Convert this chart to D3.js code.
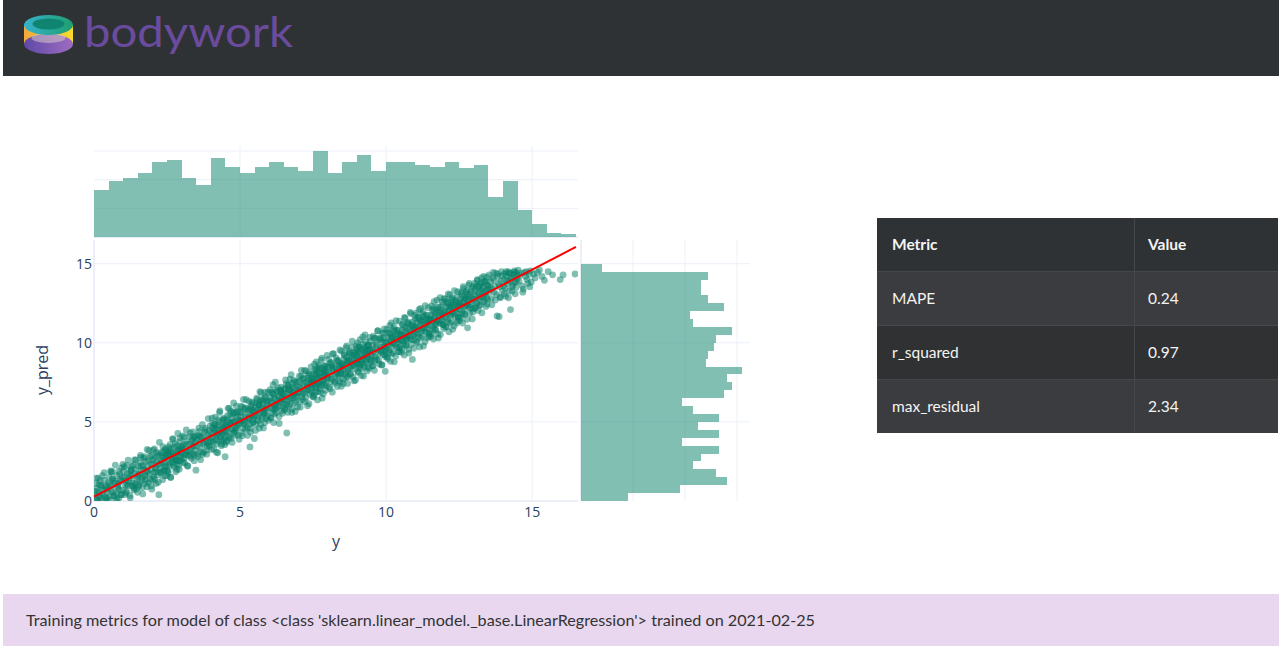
<!DOCTYPE html>
<html>
<head>
<meta charset="utf-8">
<title>bodywork - training metrics</title>
<script src="https://cdn.jsdelivr.net/npm/d3@7"></script>
<style>
  body { margin: 0; background: #fff; }
  svg { display: block; }
  .tick { font-family: "Open Sans", sans-serif; font-size: 14px; fill: #2a3f5f; }
  .title { font-family: "Open Sans", sans-serif; font-size: 16px; fill: #2a3f5f; }
  .cell { font-family: Lato, "Noto Sans", sans-serif; font-size: 15.5px; fill: #f4f4f4; }
</style>
</head>
<body>
<svg id="page" width="1282" height="650"></svg>
<script>
// ---- values ----
var axisTicks = [0, 5, 10, 15];
var countTicks = [20, 40, 60];
var binWidth = 0.5;

// histogram of y (bins of 0.5 from 0 to 16.5)
var yCounts = [33, 39, 41, 45, 52, 54, 41, 36, 55, 49, 45, 49, 52, 49, 46, 60, 45,
               52, 57, 46, 52, 52, 50, 49, 52, 48, 50, 28, 39, 19, 9, 3, 2];

// histogram of y_pred (bins of 0.5 from 0 to 15)
var predCounts = [18, 38, 56, 52, 43, 46, 53, 39, 53, 45, 53, 43, 39, 55, 58,
                  56, 62, 48, 49, 51, 52, 58, 43, 42, 55, 49, 46, 46, 49, 8];

// fitted line
var fitX = [0, 16.5];
var fitY = [0.27, 16.06];

var metricNames = ['MAPE', 'r_squared', 'max_residual'];
var metricValues = ['0.24', '0.97', '2.34'];

// [y, y_pred] - first pass
var points = [
  [0.02,0.35],[0.05,1.1],[0.08,0.05],[0.12,0.6],[0.15,1.45],[0.2,0.2],[0.26,0.9],[0.31,0.45],[0.36,1.3],[0.42,0.1],[0.47,0.75],
  [0.52,1.5],[0.55,0.3],[0.58,0.95],[0.62,1.85],[0.66,0.55],[0.7,1.25],[0.74,0.05],[0.78,1.6],[0.82,0.85],[0.86,0.2],[0.9,1.35],[0.94,2.1],[0.98,0.7],
  [1.02,1.9],[1.05,0.4],[1.09,1.3],[1.12,2.25],[1.16,0.95],[1.2,1.6],[1.24,0.2],[1.28,2.0],[1.32,1.15],[1.36,0.7],[1.4,1.75],[1.43,2.6],[1.46,1.35],[1.49,0.55],
  [1.51,2.2],[1.54,1.0],[1.57,1.7],[1.6,2.75],[1.64,1.3],[1.67,0.45],[1.7,2.0],[1.74,1.55],[1.78,2.5],[1.81,0.9],[1.85,1.85],[1.88,3.2],[1.92,1.4],[1.95,2.35],[1.98,0.75],
  [2.01,2.6],[2.04,1.5],[2.07,3.3],[2.1,2.05],[2.13,1.1],[2.16,2.85],[2.19,2.3],[2.22,0.4],[2.26,1.8],[2.29,3.05],[2.32,2.45],[2.35,1.35],[2.38,2.75],[2.41,1.95],[2.44,3.3],[2.47,2.2],[2.49,1.6],
  [2.51,2.95],[2.53,1.9],[2.56,3.4],[2.59,2.4],[2.62,1.5],[2.65,3.1],[2.68,2.7],[2.71,3.9],[2.74,2.15],[2.77,2.9],[2.8,1.85],[2.83,3.5],[2.86,2.55],[2.89,3.25],[2.92,2.0],[2.94,3.75],[2.97,2.8],[2.99,3.3],
  [3.02,3.4],[3.05,2.45],[3.09,4.05],[3.13,2.95],[3.17,3.6],[3.21,2.2],[3.25,3.15],[3.29,4.3],[3.33,2.7],[3.37,3.45],[3.41,4.0],[3.44,2.9],[3.47,3.7],[3.49,1.95],
  [3.52,3.9],[3.56,2.8],[3.6,4.4],[3.64,3.35],[3.68,4.0],[3.72,2.95],[3.77,3.7],[3.81,4.6],[3.85,3.2],[3.9,4.2],[3.94,3.55],[3.98,4.75],
  [4.01,4.3],[4.03,3.25],[4.06,4.9],[4.09,3.85],[4.12,4.5],[4.15,5.3],[4.18,3.6],[4.21,4.2],[4.24,3.05],[4.27,4.75],[4.3,5.6],[4.33,4.05],[4.36,3.5],[4.39,4.55],[4.42,5.1],[4.45,3.9],[4.47,4.4],[4.49,2.8],
  [4.51,4.8],[4.54,3.8],[4.57,5.4],[4.6,4.35],[4.63,5.85],[4.66,4.95],[4.69,3.95],[4.72,5.25],[4.75,4.5],[4.78,6.2],[4.81,5.0],[4.84,4.15],[4.87,5.6],[4.9,4.75],[4.93,5.3],[4.97,3.9],
  [5.02,5.3],[5.05,4.3],[5.09,5.95],[5.13,4.9],[5.17,5.5],[5.21,6.4],[5.25,4.6],[5.28,5.2],[5.32,5.8],[5.34,3.42],[5.36,4.35],[5.39,5.45],[5.42,6.25],[5.45,5.0],[5.47,5.65],[5.49,3.95],
  [5.51,5.9],[5.54,4.85],[5.57,6.5],[5.6,5.4],[5.63,6.1],[5.66,4.6],[5.69,5.75],[5.72,6.85],[5.75,5.2],[5.78,6.3],[5.81,5.55],[5.84,4.95],[5.87,6.6],[5.9,5.85],[5.93,6.25],[5.97,5.1],
  [6.01,6.3],[6.04,5.25],[6.07,6.9],[6.1,5.8],[6.13,7.35],[6.16,6.5],[6.19,5.5],[6.22,6.1],[6.25,7.0],[6.28,5.95],[6.31,6.65],[6.34,4.9],[6.37,6.35],[6.4,7.2],[6.43,5.7],[6.46,6.8],[6.49,6.15],
  [6.52,6.75],[6.55,5.85],[6.58,7.4],[6.6,4.3],[6.62,6.3],[6.65,7.05],[6.68,6.0],[6.71,7.7],[6.74,6.55],[6.77,5.6],[6.8,7.2],[6.83,6.85],[6.86,6.2],[6.9,7.55],[6.94,6.65],[6.97,5.95],
  [7.02,7.2],[7.05,6.3],[7.09,7.9],[7.13,6.8],[7.17,7.45],[7.21,8.25],[7.25,6.55],[7.28,7.05],[7.32,7.75],[7.36,6.15],[7.39,7.4],[7.42,8.0],[7.45,6.9],[7.47,7.6],[7.49,6.6],
  [7.51,7.7],[7.53,6.7],[7.56,8.3],[7.58,7.25],[7.61,8.8],[7.63,7.95],[7.66,6.9],[7.68,7.5],[7.71,8.45],[7.73,7.1],[7.76,7.85],[7.78,8.9],[7.81,6.5],[7.83,7.6],[7.86,8.2],[7.88,7.35],[7.91,8.55],[7.93,7.0],[7.96,7.9],[7.98,9.2],
  [8.02,8.15],[8.05,7.2],[8.09,8.75],[8.13,7.7],[8.17,9.3],[8.21,8.4],[8.25,7.45],[8.28,8.0],[8.32,8.9],[8.36,7.6],[8.39,8.55],[8.42,9.55],[8.45,8.1],[8.47,7.25],[8.49,8.7],
  [8.51,8.6],[8.54,7.7],[8.57,9.2],[8.6,8.15],[8.63,9.7],[8.66,8.85],[8.69,7.85],[8.72,8.4],[8.75,9.45],[8.78,8.0],[8.81,9.0],[8.84,10.1],[8.87,8.55],[8.9,7.6],[8.93,9.25],[8.96,8.75],[8.99,9.6],
  [9.01,9.1],[9.03,8.2],[9.06,9.75],[9.08,8.6],[9.11,10.2],[9.13,9.3],[9.16,8.35],[9.18,8.95],[9.21,9.9],[9.23,7.9],[9.26,9.45],[9.28,10.5],[9.31,8.75],[9.33,9.2],[9.36,9.8],[9.39,8.45],[9.42,9.55],[9.45,10.1],[9.48,8.9],
  [9.52,9.6],[9.55,8.55],[9.59,10.3],[9.63,9.1],[9.67,9.85],[9.71,10.75],[9.75,8.9],[9.78,9.5],[9.82,10.2],[9.86,8.6],[9.89,9.75],[9.92,10.6],[9.95,9.25],[9.97,8.2],[9.99,10.0],
  [10.01,10.05],[10.04,9.1],[10.07,10.65],[10.1,9.55],[10.13,11.1],[10.16,10.3],[10.19,9.3],[10.22,9.95],[10.25,10.85],[10.28,8.8],[10.31,10.45],[10.34,11.4],[10.37,9.7],[10.4,10.2],[10.43,10.8],[10.46,9.45],[10.49,10.55],
  [10.51,10.5],[10.54,9.6],[10.57,11.15],[10.6,10.1],[10.63,11.6],[10.66,10.75],[10.69,9.8],[10.72,10.35],[10.75,11.3],[10.78,9.35],[10.81,10.9],[10.84,11.85],[10.87,10.2],[10.9,8.95],[10.93,11.05],[10.96,10.55],[10.99,11.5],
  [11.01,11.0],[11.04,10.1],[11.07,11.6],[11.1,10.55],[11.13,12.1],[11.16,11.25],[11.19,10.3],[11.22,10.85],[11.25,11.8],[11.28,9.8],[11.31,11.4],[11.34,12.35],[11.37,10.7],[11.4,11.15],[11.43,11.75],[11.46,10.4],[11.49,11.5],
  [11.52,11.5],[11.55,10.55],[11.58,12.1],[11.61,11.0],[11.64,12.6],[11.67,11.75],[11.7,10.8],[11.73,11.35],[11.76,12.25],[11.79,10.3],[11.82,11.9],[11.85,12.85],[11.88,11.2],[11.91,11.6],[11.94,12.4],[11.97,10.9],
  [12.01,12.0],[12.04,11.0],[12.07,12.6],[12.1,11.5],[12.13,13.1],[12.16,12.25],[12.19,11.25],[12.22,11.8],[12.25,12.75],[12.28,10.85],[12.31,12.4],[12.34,13.3],[12.37,11.65],[12.4,12.1],[12.43,12.9],[12.46,11.4],[12.49,12.55],
  [12.52,12.5],[12.55,11.6],[12.58,13.1],[12.61,12.0],[12.64,13.55],[12.67,12.75],[12.7,11.8],[12.73,12.35],[12.76,13.3],[12.79,10.95],[12.82,12.9],[12.85,13.75],[12.88,12.2],[12.91,12.6],[12.94,13.4],[12.97,11.95],
  [13.01,13.0],[13.04,12.2],[13.07,13.6],[13.1,12.55],[13.13,14.0],[13.16,13.25],[13.19,12.35],[13.22,12.9],[13.25,13.8],[13.28,11.9],[13.31,13.45],[13.34,14.2],[13.37,12.7],[13.4,13.1],[13.43,13.9],[13.46,12.45],[13.49,13.6],
  [13.55,13.5],[13.6,12.8],[13.65,14.1],[13.7,13.2],[13.75,14.4],[13.8,11.7],[13.85,13.75],[13.87,11.65],[13.9,12.9],[13.96,14.25],
  [14.02,13.6],[14.06,14.35],[14.1,12.95],[14.14,13.95],[14.18,14.5],[14.22,13.3],[14.26,12.1],[14.3,14.1],[14.34,13.65],[14.38,14.45],[14.42,13.1],[14.46,13.85],[14.49,14.3],
  [14.55,13.9],[14.62,14.4],[14.7,13.4],[14.78,14.2],[14.86,13.75],[14.94,14.55],
  [15.1,14.1],[15.25,14.6],[15.42,13.95],
  [15.7,14.3],[15.96,14.0],
  [16.06,14.3],[16.47,14.35]
];

// [y, y_pred] - second pass, the dense core of the band
var points2 = [
  [0.03,0.6],[0.11,0.8],[0.09,0.15],[0.18,0.5],[0.24,1.0],[0.22,0.35],[0.33,0.7],[0.29,1.6],[0.4,0.95],[0.45,0.55],[0.38,0.25],[0.49,1.15],
  [0.53,1.05],[0.6,0.7],[0.57,1.9],[0.68,0.35],[0.72,1.15],[0.64,1.4],[0.8,0.95],[0.77,0.5],[0.88,1.7],[0.84,1.1],[0.93,0.4],[0.97,1.5],[0.91,1.25],
  [1.03,1.5],[1.08,1.0],[1.14,1.75],[1.11,0.6],[1.19,1.25],[1.25,1.9],[1.22,1.45],[1.31,0.95],[1.35,2.3],[1.29,1.6],[1.41,1.1],[1.44,2.0],[1.38,0.8],[1.48,1.55],
  [1.52,1.65],[1.58,2.4],[1.56,1.2],[1.63,1.95],[1.69,2.25],[1.66,1.5],[1.73,2.8],[1.79,1.9],[1.76,1.1],[1.83,2.15],[1.87,2.55],[1.9,1.7],[1.94,2.0],[1.97,2.9],[1.99,1.35],
  [2.02,2.3],[2.06,1.8],[2.09,2.7],[2.12,2.1],[2.15,2.5],[2.18,1.65],[2.21,2.95],[2.25,2.35],[2.28,2.05],[2.31,2.6],[2.34,1.9],[2.37,3.1],[2.4,2.4],[2.43,2.15],[2.46,2.75],[2.48,2.9],[2.495,1.95],
  [2.52,2.6],[2.55,3.15],[2.58,2.25],[2.61,2.85],[2.64,3.3],[2.67,2.45],[2.7,3.0],[2.73,2.6],[2.76,3.4],[2.79,2.7],[2.82,3.05],[2.85,2.35],[2.88,3.2],[2.91,2.9],[2.93,2.55],[2.96,3.1],[2.98,3.45],[2.995,2.6],
  [3.01,3.0],[3.06,3.55],[3.08,2.7],[3.12,3.3],[3.15,3.75],[3.19,3.1],[3.23,2.85],[3.27,3.6],[3.31,3.25],[3.35,3.9],[3.39,3.0],[3.42,3.5],[3.46,3.2],[3.48,4.1],
  [3.53,3.45],[3.58,4.15],[3.62,3.7],[3.66,3.1],[3.7,4.05],[3.74,3.6],[3.79,4.35],[3.83,3.85],[3.87,3.45],[3.92,4.0],[3.96,4.45],[3.99,3.75],
  [4.02,4.0],[4.05,4.6],[4.08,3.7],[4.11,4.3],[4.14,4.85],[4.17,4.1],[4.2,3.9],[4.23,4.55],[4.26,4.25],[4.29,5.0],[4.32,4.4],[4.35,3.85],[4.38,4.8],[4.41,4.3],[4.44,4.65],[4.46,5.2],[4.48,4.0],[4.495,4.75],
  [4.52,4.4],[4.55,5.1],[4.58,4.7],[4.62,4.1],[4.65,5.45],[4.68,4.85],[4.71,4.55],[4.74,5.0],[4.77,5.55],[4.8,4.3],[4.83,4.95],[4.86,5.3],[4.89,4.6],[4.92,5.65],[4.95,4.85],[4.98,5.1],
  [5.01,4.95],[5.04,5.6],[5.07,5.1],[5.11,4.6],[5.15,5.85],[5.19,5.3],[5.23,5.0],[5.27,5.7],[5.3,5.25],[5.33,4.85],[5.37,6.0],[5.4,5.4],[5.44,5.15],[5.46,5.75],[5.48,5.35],
  [5.52,5.45],[5.55,6.2],[5.58,5.75],[5.61,5.15],[5.64,6.05],[5.67,5.55],[5.7,6.35],[5.73,5.9],[5.76,5.35],[5.79,6.15],[5.82,5.8],[5.85,6.5],[5.88,5.6],[5.91,6.0],[5.94,5.4],[5.96,6.35],
  [6.02,5.9],[6.05,6.55],[6.08,6.2],[6.11,5.6],[6.14,6.75],[6.17,6.05],[6.2,6.45],[6.23,5.85],[6.26,6.9],[6.29,6.3],[6.32,6.0],[6.35,6.6],[6.38,6.95],[6.41,6.25],[6.44,6.5],[6.47,5.95],[6.495,7.05],
  [6.51,6.4],[6.54,7.1],[6.57,6.6],[6.61,6.1],[6.64,7.3],[6.67,6.85],[6.7,6.45],[6.73,7.0],[6.76,6.7],[6.79,7.45],[6.82,6.5],[6.85,7.15],[6.88,6.8],[6.91,6.3],[6.95,7.25],[6.98,6.95],
  [7.01,6.85],[7.04,7.55],[7.07,7.1],[7.11,6.6],[7.15,7.7],[7.19,7.3],[7.23,6.95],[7.27,7.5],[7.3,7.2],[7.34,7.95],[7.38,7.0],[7.41,7.35],[7.44,7.75],[7.46,7.15],[7.48,7.5],
  [7.52,7.35],[7.54,8.05],[7.57,7.6],[7.59,7.15],[7.62,8.2],[7.64,7.75],[7.67,7.4],[7.69,8.35],[7.72,7.95],[7.74,7.55],[7.77,8.1],[7.79,7.3],[7.82,8.4],[7.84,7.85],[7.87,7.65],[7.89,8.25],[7.92,7.45],[7.94,8.15],[7.97,8.5],[7.99,7.75],
  [8.01,7.8],[8.04,8.45],[8.07,8.0],[8.11,7.55],[8.15,8.6],[8.19,8.25],[8.23,7.85],[8.27,8.5],[8.3,8.15],[8.34,8.8],[8.38,7.95],[8.41,8.35],[8.44,8.65],[8.46,8.05],[8.48,8.45],
  [8.52,8.3],[8.55,8.95],[8.58,8.55],[8.61,8.0],[8.64,9.1],[8.67,8.7],[8.7,8.25],[8.73,8.85],[8.76,9.35],[8.79,8.45],[8.82,8.75],[8.85,9.2],[8.88,8.6],[8.91,9.05],[8.94,8.35],[8.97,9.4],[8.995,8.9],
  [9.02,8.7],[9.04,9.4],[9.07,8.95],[9.09,8.45],[9.12,9.55],[9.14,9.15],[9.17,8.8],[9.19,9.6],[9.22,9.05],[9.24,8.65],[9.27,9.7],[9.29,9.25],[9.32,8.9],[9.34,9.45],[9.37,9.1],[9.4,9.85],[9.43,8.95],[9.46,9.5],[9.49,9.3],
  [9.51,9.2],[9.54,9.85],[9.57,9.45],[9.61,8.9],[9.65,10.0],[9.69,9.6],[9.73,9.3],[9.77,10.25],[9.8,9.7],[9.84,9.4],[9.87,10.05],[9.9,9.55],[9.93,10.3],[9.96,9.75],[9.985,9.5],
  [10.02,9.65],[10.05,10.3],[10.08,9.9],[10.11,9.4],[10.14,10.55],[10.17,10.1],[10.2,9.75],[10.23,10.4],[10.26,10.0],[10.29,10.75],[10.32,9.85],[10.35,10.25],[10.38,10.6],[10.41,10.05],[10.44,9.7],[10.47,10.45],[10.495,10.15],
  [10.52,10.15],[10.55,10.8],[10.58,10.4],[10.61,9.9],[10.64,11.0],[10.67,10.6],[10.7,10.25],[10.73,10.9],[10.76,10.5],[10.79,11.2],[10.82,10.3],[10.85,10.7],[10.88,11.1],[10.91,10.45],[10.94,10.85],[10.97,10.2],[10.995,10.95],
  [11.02,10.6],[11.05,11.25],[11.08,10.85],[11.11,10.35],[11.14,11.5],[11.17,11.05],[11.2,10.7],[11.23,11.4],[11.26,10.95],[11.29,11.65],[11.32,10.8],[11.35,11.2],[11.38,11.55],[11.41,10.9],[11.44,11.3],[11.47,10.65],[11.495,11.45],
  [11.51,11.1],[11.54,11.75],[11.57,11.35],[11.6,10.85],[11.63,11.95],[11.66,11.55],[11.69,11.2],[11.72,11.85],[11.75,11.45],[11.78,12.1],[11.81,11.3],[11.84,11.7],[11.87,12.05],[11.9,11.4],[11.93,11.8],[11.96,11.15],[11.99,11.95],
  [12.02,11.6],[12.05,12.25],[12.08,11.85],[12.11,11.35],[12.14,12.45],[12.17,12.05],[12.2,11.7],[12.23,12.35],[12.26,11.95],[12.29,12.6],[12.32,11.8],[12.35,12.2],[12.38,12.55],[12.41,11.9],[12.44,12.3],[12.47,11.65],[12.495,12.4],
  [12.51,12.1],[12.54,12.75],[12.57,12.35],[12.6,11.85],[12.63,12.95],[12.66,12.55],[12.69,12.2],[12.72,12.85],[12.75,12.45],[12.78,13.1],[12.81,12.3],[12.84,12.7],[12.87,13.05],[12.9,12.4],[12.93,12.8],[12.96,12.15],
  [13.02,12.75],[13.05,13.35],[13.08,12.95],[13.11,12.5],[13.14,13.55],[13.17,13.15],[13.2,12.8],[13.23,13.7],[13.26,13.3],[13.29,12.9],[13.32,13.5],[13.35,13.1],[13.38,13.85],[13.41,13.25],[13.44,12.85],[13.47,13.65],[13.495,13.4],
  [13.52,13.2],[13.58,13.85],[13.63,13.4],[13.68,14.0],[13.72,13.6],[13.78,13.05],[13.83,14.2],[13.88,13.55],[13.93,13.9],[13.98,13.3],
  [14.04,14.0],[14.08,13.45],[14.12,14.2],[14.16,13.75],[14.2,14.4],[14.24,13.9],[14.28,14.1],[14.32,13.55],[14.36,14.3],[14.4,13.85],[14.44,14.45],[14.48,14.05],
  [14.58,14.25],[14.66,13.6],[14.74,14.45],[14.82,14.0],[14.9,14.35],[14.97,13.85],
  [15.18,14.45],[15.34,14.2]
];

// [y, y_pred] - third pass, the looser edges of the band
var points3 = [
  [0.07,1.44],[0.14,0.05],[0.21,1.27],[0.28,0.09],[0.35,1.8],[0.44,0.19],[0.17,1.03],[0.39,0.84],
  [0.51,0.06],[0.59,1.83],[0.67,0.31],[0.73,2.27],[0.79,0.13],[0.85,1.88],[0.92,0.4],[0.99,2.32],[0.63,1.37],[0.87,0.7],
  [1.04,2.17],[1.1,0.52],[1.17,2.59],[1.23,0.35],[1.3,2.21],[1.34,0.95],[1.39,2.6],[1.45,0.76],[1.13,1.05],[1.27,1.94],
  [1.53,0.93],[1.59,2.89],[1.65,0.85],[1.71,2.71],[1.77,1.31],[1.82,3.26],[1.86,1.15],[1.93,2.82],[1.96,0.95],[1.62,2.22],[1.75,1.64],
  [2.03,3.21],[2.08,1.36],[2.14,3.07],[2.2,1.18],[2.24,3.71],[2.3,1.77],[2.36,3.43],[2.42,1.59],[2.45,3.21],[2.11,1.84],[2.33,2.85],
  [2.54,1.8],[2.6,3.56],[2.63,1.49],[2.69,3.94],[2.72,2.27],[2.78,3.63],[2.84,1.99],[2.87,4.27],[2.9,2.25],[2.95,3.99],[2.57,3.03],[2.81,2.56],
  [3.03,4.12],[3.1,2.39],[3.16,4.49],[3.2,2.23],[3.26,4.09],[3.32,2.85],[3.38,4.37],[3.43,2.55],[3.45,4.07],[3.14,2.92],[3.36,3.79],
  [3.54,2.96],[3.59,4.61],[3.65,2.61],[3.71,4.82],[3.75,3.06],[3.8,4.46],[3.86,2.96],[3.91,5.21],[3.95,3.45],[3.63,4.09],[3.89,3.69],
  [4.04,5.24],[4.1,3.29],[4.13,4.82],[4.19,3.08],[4.25,5.14],[4.28,3.77],[4.31,5.69],[4.37,3.6],[4.43,5.21],[4.48,3.56],[4.16,4.6],[4.4,4.18],
  [4.53,3.71],[4.59,5.86],[4.64,4.01],[4.7,5.67],[4.73,3.7],[4.79,5.6],[4.82,4.38],[4.88,5.99],[4.94,4.15],[4.99,5.65],[4.61,4.98],[4.85,4.56],
  [5.03,5.98],[5.08,4.13],[5.12,6.42],[5.18,4.53],[5.22,5.87],[5.26,4.15],[5.31,6.3],[5.35,4.59],[5.41,6.15],[5.44,4.93],[5.14,4.89],[5.38,5.77],
  [5.53,4.46],[5.59,6.42],[5.62,5.05],[5.68,6.91],[5.71,4.83],[5.77,6.44],[5.8,4.62],[5.86,6.88],[5.89,5.21],[5.95,6.86],[5.65,6.08],[5.83,5.55],
  [6.03,7.04],[6.06,5.27],[6.12,6.83],[6.15,4.96],[6.21,7.51],[6.24,5.59],[6.3,7.15],[6.33,5.33],[6.39,6.99],[6.45,5.54],[6.18,5.83],[6.42,6.81],
  [6.53,5.77],[6.56,7.65],[6.63,5.61],[6.66,7.34],[6.72,6.15],[6.75,7.98],[6.78,5.81],[6.84,7.62],[6.89,5.66],[6.96,7.53],[6.69,7.02],[6.92,6.59],
  [7.03,7.89],[7.06,5.93],[7.1,8.26],[7.14,6.4],[7.18,7.79],[7.22,6.28],[7.26,8.22],[7.31,6.02],[7.35,8.1],[7.4,6.75],[7.43,8.48],[7.2,6.81],[7.37,7.63],
  [7.52,6.57],[7.55,8.65],[7.6,6.89],[7.62,8.36],[7.65,6.39],[7.7,8.59],[7.75,6.89],[7.8,9.03],[7.85,6.78],[7.9,8.53],[7.95,7.28],[7.58,7.92],[7.72,7.31],[7.87,8.1],
  [8.03,8.95],[8.08,7.1],[8.12,8.74],[8.16,6.88],[8.2,9.32],[8.24,7.56],[8.29,9.05],[8.33,7.24],[8.37,8.88],[8.43,7.54],[8.47,9.48],[8.14,8.41],[8.4,8.01],
  [8.53,7.43],[8.56,9.31],[8.62,7.82],[8.65,9.8],[8.68,7.43],[8.74,9.33],[8.77,8.06],[8.83,9.72],[8.86,7.85],[8.92,9.41],[8.95,7.64],[8.98,9.81],[8.71,8.9],
  [9.02,10.0],[9.05,8.13],[9.1,9.73],[9.15,7.93],[9.2,10.37],[9.25,8.47],[9.3,10.07],[9.35,8.22],[9.38,9.85],[9.41,8.38],[9.44,10.35],[9.47,8.78],[9.12,8.65],[9.33,9.55],
  [9.53,8.54],[9.56,10.42],[9.6,8.26],[9.64,10.3],[9.68,8.93],[9.72,10.77],[9.76,8.66],[9.81,10.31],[9.85,8.6],[9.88,10.63],[9.91,9.25],[9.94,10.88],[9.98,9.12],
  [10.03,10.87],[10.06,9.0],[10.12,10.65],[10.15,8.83],[10.18,11.26],[10.24,9.37],[10.27,11.0],[10.33,9.16],[10.36,10.78],[10.42,9.44],[10.45,11.37],[10.48,9.75],[10.21,10.34],
  [10.53,9.4],[10.56,11.18],[10.62,9.23],[10.65,11.56],[10.68,9.89],[10.74,11.25],[10.77,9.58],[10.83,11.93],[10.86,9.91],[10.92,11.32],[10.95,9.65],[10.98,11.73],[10.71,10.22],
  [11.03,11.88],[11.06,10.0],[11.12,11.61],[11.15,9.74],[11.18,12.17],[11.24,10.43],[11.27,11.96],[11.33,10.06],[11.36,11.74],[11.42,10.3],[11.45,12.23],[11.48,10.56],[11.21,11.35],
  [11.53,10.4],[11.56,12.33],[11.62,10.24],[11.65,12.17],[11.68,10.85],[11.74,12.7],[11.77,10.58],[11.83,12.24],[11.86,10.52],[11.92,12.58],[11.95,11.16],[11.98,12.79],[11.71,11.18],
  [12.03,12.78],[12.06,11.01],[12.12,12.57],[12.15,10.7],[12.18,13.03],[12.24,11.33],[12.27,12.86],[12.33,11.07],[12.36,12.7],[12.42,11.26],[12.45,13.23],[12.48,11.61],[12.21,12.25],
  [12.53,11.41],[12.56,13.19],[12.62,11.25],[12.65,13.43],[12.68,11.81],[12.74,13.21],[12.77,11.49],[12.83,13.65],[12.86,11.88],[12.92,13.23],[12.95,11.51],[12.98,13.54],[12.71,12.78],
  [13.03,13.75],[13.06,12.2],[13.12,13.95],[13.15,12.05],[13.18,13.6],[13.24,12.4],[13.27,14.1],[13.33,12.6],[13.36,13.85],[13.42,12.3],[13.45,14.15],[13.48,12.75],
  [13.53,14.3],[13.62,12.4],[13.67,14.45],[13.74,12.7],[13.82,14.35],[13.91,12.85],[13.95,14.5],
  [14.05,13.1],[14.11,14.5],[14.19,12.85],[14.25,14.4],[14.31,13.25],[14.39,14.55],[14.45,13.5],
  [14.52,14.6],[14.68,13.2],[14.8,14.5],[14.92,13.55],
  [15.05,14.35],[15.55,14.5]
];

// ---- drawing ----
var svg = d3.select('#page');
var green = 'rgb(4,128,103)';
var gridColor = '#ebf0f8';

var x = d3.scaleLinear().domain([0, 16.57]).range([94, 578]);
var y = d3.scaleLinear().domain([0, 16.5]).range([501, 240]);
var topY = d3.scaleLinear().domain([0, 63.5]).range([237, 146]);
var sideX = d3.scaleLinear().domain([0, 65]).range([581, 750]);

// header
svg.append('rect').attr('x', 3).attr('y', 0).attr('width', 1276).attr('height', 76).attr('fill', '#2f3235');

var defs = svg.append('defs');
function gradient(id, c0, c1) {
  var g = defs.append('linearGradient').attr('id', id);
  g.append('stop').attr('offset', '0%').attr('stop-color', c0);
  g.append('stop').attr('offset', '100%').attr('stop-color', c1);
}
gradient('teal', '#36b3cc', '#1f9e6e');
gradient('gold', '#f3a93c', '#f8da2c');
gradient('violet', '#5f4aa6', '#9e6cc2');

var logo = svg.append('g');
logo.append('rect').attr('x', 24).attr('y', 25).attr('width', 49).attr('height', 19).attr('fill', 'url(#gold)');
logo.append('ellipse').attr('cx', 48.5).attr('cy', 44).attr('rx', 24.5).attr('ry', 10).attr('fill', 'url(#violet)');
logo.append('ellipse').attr('cx', 48.5).attr('cy', 38).attr('rx', 17).attr('ry', 5).attr('fill', '#d9c9c9').attr('opacity', 0.55);
logo.append('ellipse').attr('cx', 48.5).attr('cy', 25).attr('rx', 24.5).attr('ry', 10).attr('fill', 'url(#teal)');
logo.append('ellipse').attr('cx', 48.5).attr('cy', 24).attr('rx', 16).attr('ry', 5.5).attr('fill', '#0f8470');
logo.append('text').attr('x', 84).attr('y', 47)
  .attr('font-family', 'Lato, "Noto Sans", sans-serif').attr('font-size', 42)
  .attr('textLength', 209).attr('lengthAdjust', 'spacingAndGlyphs')
  .attr('fill', '#6a4c9e').text('bodywork');

// ---- top histogram (y) ----
var topG = svg.append('g');
topG.selectAll('.hgrid').data(countTicks).enter().append('line')
  .attr('x1', 94).attr('x2', 578).attr('y1', function(d) { return topY(d); }).attr('y2', function(d) { return topY(d); })
  .attr('stroke', gridColor);
topG.selectAll('.vgrid').data(axisTicks.slice(1)).enter().append('line')
  .attr('x1', function(d) { return x(d); }).attr('x2', function(d) { return x(d); })
  .attr('y1', 146).attr('y2', 237).attr('stroke', gridColor);
topG.append('line').attr('x1', 94).attr('x2', 578).attr('y1', 237).attr('y2', 237)
  .attr('stroke', gridColor).attr('stroke-width', 2);
topG.selectAll('rect').data(yCounts).enter().append('rect')
  .attr('x', function(d, i) { return Math.round(x(i * binWidth)); })
  .attr('width', function(d, i) { return Math.round(x((i + 1) * binWidth)) - Math.round(x(i * binWidth)); })
  .attr('y', function(d) { return topY(d); })
  .attr('height', function(d) { return topY(0) - topY(d); })
  .attr('shape-rendering', 'crispEdges')
  .attr('fill', green).attr('opacity', 0.5);

// ---- scatter ----
var mainG = svg.append('g');
mainG.selectAll('.vgrid').data(axisTicks.slice(1)).enter().append('line')
  .attr('x1', function(d) { return x(d); }).attr('x2', function(d) { return x(d); })
  .attr('y1', 240).attr('y2', 501).attr('stroke', gridColor);
mainG.selectAll('.hgrid').data(axisTicks.slice(1)).enter().append('line')
  .attr('x1', 94).attr('x2', 578).attr('y1', function(d) { return y(d); }).attr('y2', function(d) { return y(d); })
  .attr('stroke', gridColor);
mainG.append('line').attr('x1', 94).attr('x2', 94).attr('y1', 240).attr('y2', 502)
  .attr('stroke', gridColor).attr('stroke-width', 2);
mainG.append('line').attr('x1', 93).attr('x2', 578).attr('y1', 501).attr('y2', 501)
  .attr('stroke', gridColor).attr('stroke-width', 2);

defs.append('clipPath').attr('id', 'plotClip').append('rect')
  .attr('x', 94).attr('y', 240).attr('width', 484).attr('height', 261);

var dots = mainG.append('g').attr('clip-path', 'url(#plotClip)');
dots.selectAll('circle').data(points.concat(points3, points2)).enter().append('circle')
  .attr('cx', function(d) { return x(d[0]); })
  .attr('cy', function(d) { return y(d[1]); })
  .attr('r', 3.4)
  .attr('fill', green).attr('opacity', 0.5);

var line = d3.line().x(function(d) { return x(d[0]); }).y(function(d) { return y(d[1]); });
mainG.append('path').datum(fitX.map(function(v, i) { return [v, fitY[i]]; }))
  .attr('d', line).attr('fill', 'none').attr('stroke', 'red').attr('stroke-width', 2);

mainG.selectAll('.xt').data(axisTicks).enter().append('text').attr('class', 'tick')
  .attr('x', function(d) { return x(d); }).attr('y', 517).attr('text-anchor', 'middle')
  .text(function(d) { return d; });
mainG.selectAll('.yt').data(axisTicks).enter().append('text').attr('class', 'tick')
  .attr('x', 92).attr('y', function(d) { return y(d) + 5; }).attr('text-anchor', 'end')
  .text(function(d) { return d; });
mainG.append('text').attr('class', 'title').attr('x', 336).attr('y', 547)
  .attr('text-anchor', 'middle').text('y');
mainG.append('text').attr('class', 'title')
  .attr('transform', 'translate(48,370) rotate(-90)')
  .attr('text-anchor', 'middle').text('y_pred');

// ---- right histogram (y_pred) ----
var sideG = svg.append('g');
sideG.selectAll('.vgrid').data(countTicks).enter().append('line')
  .attr('x1', function(d) { return sideX(d); }).attr('x2', function(d) { return sideX(d); })
  .attr('y1', 240).attr('y2', 501).attr('stroke', gridColor);
sideG.selectAll('.hgrid').data(axisTicks.slice(1)).enter().append('line')
  .attr('x1', 581).attr('x2', 750).attr('y1', function(d) { return y(d); }).attr('y2', function(d) { return y(d); })
  .attr('stroke', gridColor);
sideG.append('line').attr('x1', 581).attr('x2', 581).attr('y1', 240).attr('y2', 501)
  .attr('stroke', gridColor).attr('stroke-width', 2);
sideG.selectAll('rect').data(predCounts).enter().append('rect')
  .attr('x', 581)
  .attr('y', function(d, i) { return Math.round(y((i + 1) * binWidth)); })
  .attr('height', function(d, i) { return Math.round(y(i * binWidth)) - Math.round(y((i + 1) * binWidth)); })
  .attr('width', function(d) { return sideX(d) - sideX(0); })
  .attr('shape-rendering', 'crispEdges')
  .attr('fill', green).attr('opacity', 0.5);

// ---- metrics table ----
var tX = 877, tW = 401, colX = 1134, tTop = 218, headH = 53, rowH = 54;
var table = svg.append('g');
table.append('rect').attr('x', tX).attr('y', tTop).attr('width', tW).attr('height', headH).attr('fill', '#2f3235');
table.selectAll('.row').data(metricNames).enter().append('rect')
  .attr('x', tX).attr('y', function(d, i) { return tTop + headH + i * rowH; })
  .attr('width', tW).attr('height', rowH)
  .attr('fill', function(d, i) { return i % 2 === 0 ? '#3b3c3f' : '#2f3133'; });
table.selectAll('.sep').data(metricNames).enter().append('line')
  .attr('x1', tX).attr('x2', tX + tW)
  .attr('y1', function(d, i) { return tTop + headH + i * rowH + 0.5; })
  .attr('y2', function(d, i) { return tTop + headH + i * rowH + 0.5; })
  .attr('stroke', '#45474b');
table.append('line').attr('x1', colX + 0.5).attr('x2', colX + 0.5)
  .attr('y1', tTop).attr('y2', tTop + headH + 3 * rowH).attr('stroke', '#45474b');
table.append('text').attr('class', 'cell').attr('x', 892).attr('y', 250).attr('font-weight', 'bold').text('Metric');
table.append('text').attr('class', 'cell').attr('x', 1148).attr('y', 250).attr('font-weight', 'bold').text('Value');
table.selectAll('.name').data(metricNames).enter().append('text').attr('class', 'cell')
  .attr('x', 892).attr('y', function(d, i) { return tTop + headH + i * rowH + 33; })
  .text(function(d) { return d; });
table.selectAll('.val').data(metricValues).enter().append('text').attr('class', 'cell')
  .attr('x', 1148).attr('y', function(d, i) { return tTop + headH + i * rowH + 33; })
  .text(function(d) { return d; });

// ---- footer ----
svg.append('rect').attr('x', 3).attr('y', 594).attr('width', 1276).attr('height', 52).attr('fill', '#e8d7ef');
svg.append('text').attr('x', 26).attr('y', 626)
  .attr('font-family', 'Lato, "Noto Sans", sans-serif').attr('font-size', 16)
  .attr('textLength', 789).attr('lengthAdjust', 'spacingAndGlyphs')
  .attr('fill', '#333').text("Training metrics for model of class <class 'sklearn.linear_model._base.LinearRegression'> trained on 2021-02-25");
</script>
</body>
</html>
